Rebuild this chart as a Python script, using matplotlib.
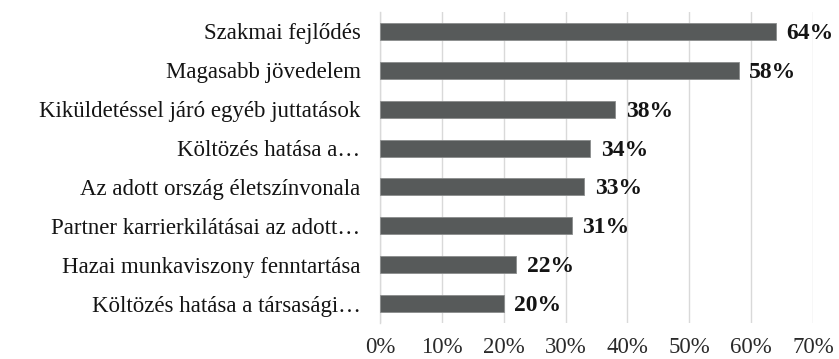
import matplotlib
matplotlib.use("Agg")
import matplotlib.pyplot as plt
from matplotlib.ticker import FuncFormatter, MultipleLocator

categories = [
    "Szakmai fejlődés",
    "Magasabb jövedelem",
    "Kiküldetéssel járó egyéb juttatások",
    "Költözés hatása a…",
    "Az adott ország életszínvonala",
    "Partner karrierkilátásai az adott…",
    "Hazai munkaviszony fenntartása",
    "Költözés hatása a társasági…",
]
values = [64, 58, 38, 34, 33, 31, 22, 20]

plt.rcParams["font.family"] = ["Liberation Serif", "DejaVu Serif"]

fig = plt.figure(figsize=(8.39, 3.59), dpi=100)
ax = fig.add_axes([380 / 839, 1 - 323 / 359, (813 - 380) / 839, (323 - 12) / 359])

y = list(range(len(categories)))
ax.barh(y, values, height=0.44, color="#575a5a", edgecolor="#8a8c8c", linewidth=0.6, zorder=3)
ax.set_ylim(len(categories) - 0.5, -0.5)
ax.set_xlim(0, 70)

ax.set_yticks(y)
ax.set_yticklabels(categories, fontsize=16.5, color="#141414")
ax.tick_params(axis="y", length=0, pad=14)
ax.xaxis.set_major_locator(MultipleLocator(10))
ax.xaxis.set_major_formatter(FuncFormatter(lambda v, p: f"{v:.0f}%"))
ax.tick_params(axis="x", length=0, labelsize=16.5, labelcolor="#2a2a2a", pad=10)

ax.grid(axis="x", color="#d9d9d9", linewidth=1.0, zorder=0)
for s in ["top", "right", "bottom"]:
    ax.spines[s].set_visible(False)
ax.spines["left"].set_color("#d9d9d9")
ax.spines["left"].set_linewidth(1.0)

for yi, v in zip(y, values):
    ax.text(v + 1.7, yi + 0.05, f"{v}%", va="center", ha="left", fontsize=17,
            fontweight="bold", color="#141414", zorder=4)

fig.savefig("out.png", dpi=100)
